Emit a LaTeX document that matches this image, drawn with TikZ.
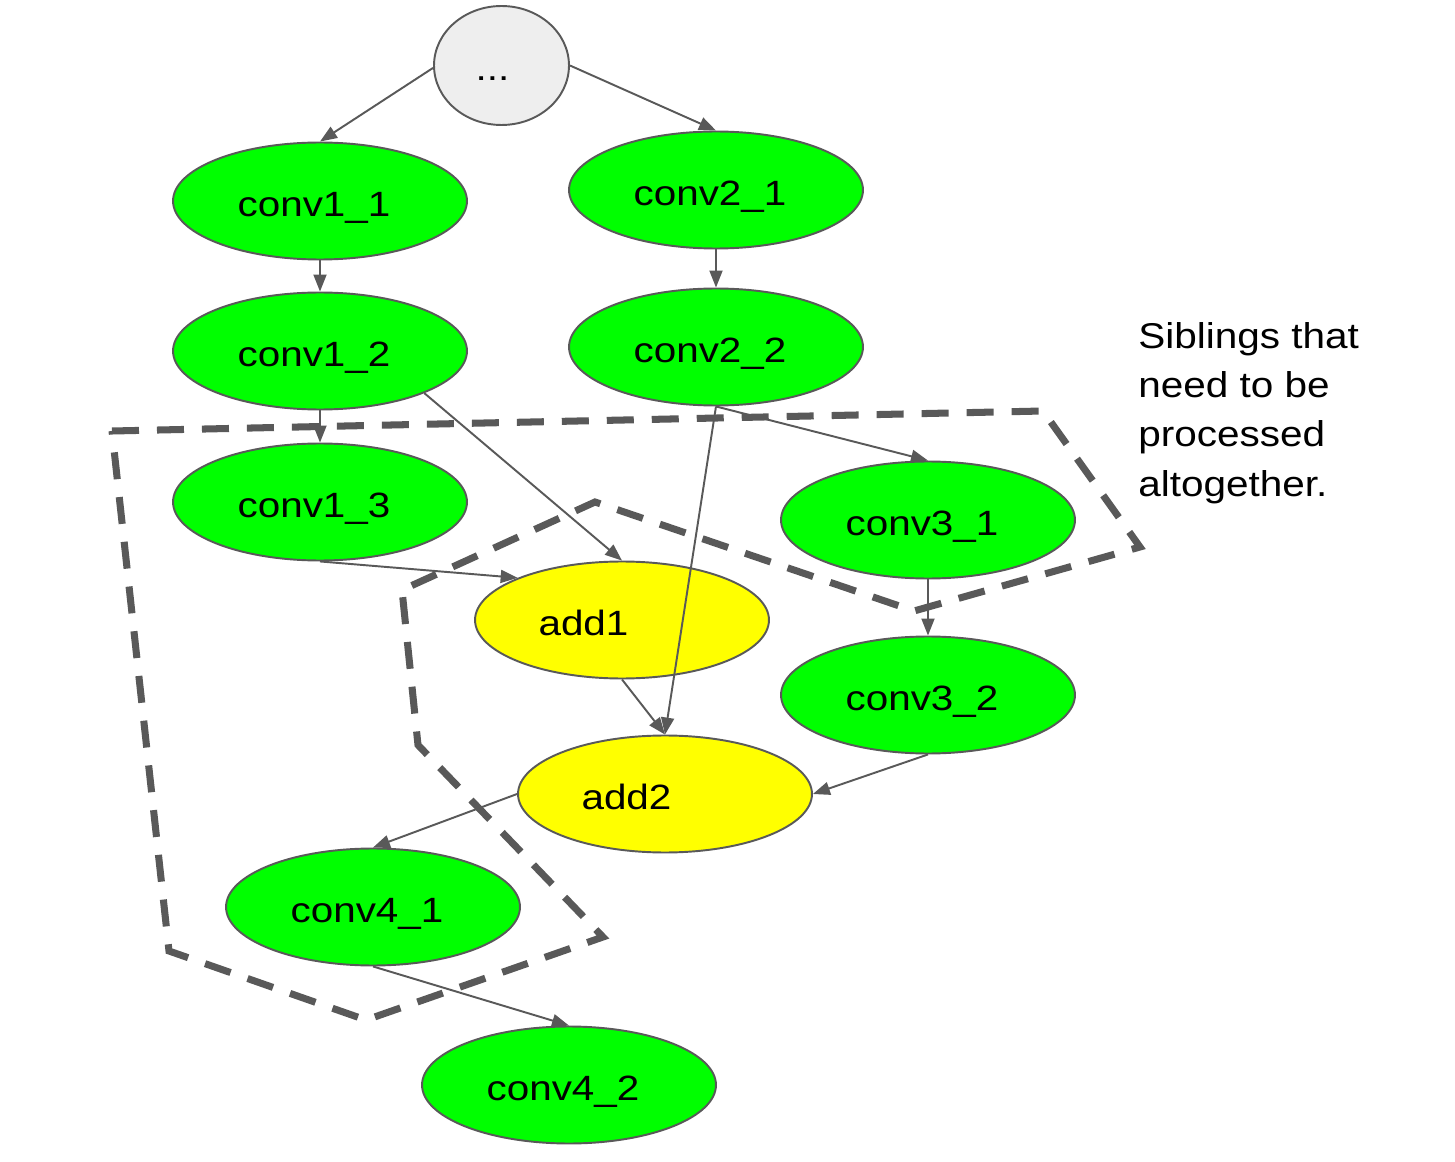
\documentclass[tikz,border=0pt]{standalone}
\usepackage{fontspec}
\setmainfont{Liberation Sans}
\newfontfamily\nodefont[FakeStretch=1.15]{Liberation Sans}
\newfontfamily\notefont[FakeStretch=1.13]{Liberation Sans}
\usetikzlibrary{shapes.geometric,arrows.meta}
\definecolor{edgegray}{HTML}{595959}
\definecolor{dotfill}{HTML}{EEEEEE}
\definecolor{opgreen}{HTML}{00FF00}
\definecolor{opyellow}{HTML}{FFFF00}
\begin{document}
\begin{tikzpicture}[x=0.02cm,y=-0.02cm,
  op/.style={ellipse,draw=edgegray,line width=1.1pt,minimum width=5.88cm,minimum height=2.34cm,inner sep=0pt,
     text height=0.72cm,text depth=0.1cm,font=\nodefont\fontsize{20}{24}\selectfont},
  convop/.style={op,fill=opgreen},
  addop/.style={op,fill=opyellow},
  link/.style={draw=edgegray,line width=1.1pt,-{Triangle[length=0.34cm,width=0.26cm]}},
  group/.style={draw=edgegray,line width=4pt,dash pattern=on 0.54cm off 0.36cm}
]
\useasboundingbox (0,0) rectangle (1455,1162);
\node[op,fill=dotfill,minimum width=2.7cm,minimum height=2.38cm] (dots) at (501.5,65.5) {...\kern0.36cm};
\node[convop] (c11) at (320,201) {conv1\_1\kern0.24cm};
\node[convop] (c21) at (716,190) {conv2\_1\kern0.24cm};
\node[convop] (c12) at (320,351) {conv1\_2\kern0.24cm};
\node[convop] (c22) at (716,347) {conv2\_2\kern0.24cm};
\node[convop] (c13) at (320,502) {conv1\_3\kern0.24cm};
\node[convop] (c31) at (928,520) {conv3\_1\kern0.24cm};
\node[addop] (a1) at (622,620) {add1\kern1.54cm};
\node[convop] (c32) at (928,695) {conv3\_2\kern0.24cm};
\node[addop] (a2) at (665,794) {add2\kern1.54cm};
\node[convop] (c41) at (373,907) {conv4\_1\kern0.24cm};
\node[convop] (c42) at (569,1085) {conv4\_2\kern0.24cm};

\draw[link] (dots.182) -- (c11.north);
\draw[link] (dots.east) -- (c21.north);
\draw[link] (c11.south) -- (c12.north);
\draw[link] (c21.south) -- (c22.north);
\draw[link] (c12.south) -- (c13.north);
\draw[link] (c12.-22) -- (a1.north);
\draw[link] (c22.south) -- (c31.north);
\draw[link] (c22.south) -- (a2.north);
\draw[link] (c13.south) -- (a1.158.5);
\draw[link] (a1.south) -- (a2.north);
\draw[link] (c31.south) -- (c32.north);
\draw[link] (c32.south) -- (a2.east);
\draw[link] (a2.west) -- (c41.north);
\draw[link] (c41.south) -- (c42.north);

\draw[group] (112,431) -- (1043,411) -- (1140,547) -- (914,611) -- (595,502) -- (402,590) -- (418,745) -- (603,937) -- (366,1020) -- (169,951) -- cycle;

\node[anchor=north west,inner sep=0pt,align=left,font=\notefont\fontsize{20.4}{28.06}\selectfont] (note) at (1138,322) {Siblings that\\need to be\\processed\\altogether.};
\end{tikzpicture}
\end{document}
